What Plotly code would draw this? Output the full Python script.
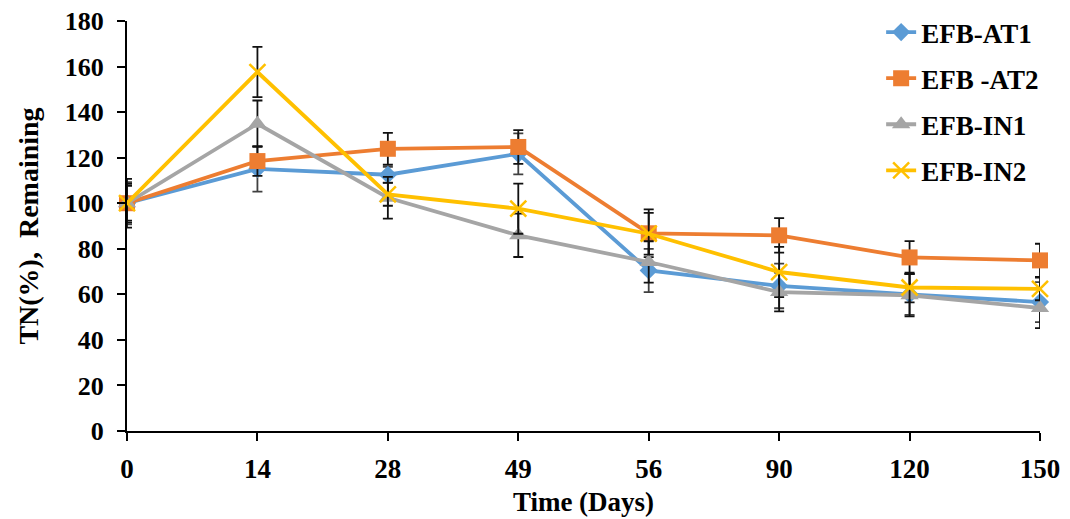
import plotly.graph_objects as go

days = ["0", "14", "28", "49", "56", "90", "120", "150"]

efb_at1 = [100, 115.1, 112.5, 121.7, 70.5, 63.7, 60.0, 56.6]
efb_at1_err = [9.3, 10.0, 3.5, 9.0, 9.5, 9.8, 9.0, 8.8]

efb_at2 = [100, 118.5, 123.9, 124.7, 86.8, 85.9, 76.2, 74.9]
efb_at2_err = [7.6, 6.5, 7.0, 7.4, 10.5, 7.6, 7.2, 7.3]

efb_in1 = [100, 134.9, 102.4, 85.9, 74.2, 61.0, 59.6, 54.0]
efb_in1_err = [10.7, 10.2, 9.2, 9.5, 9.1, 8.5, 9.3, 8.8]

efb_in2 = [100, 157.6, 103.9, 97.6, 86.6, 69.8, 63.0, 62.4]
efb_in2_err = [8.5, 11.0, 5.0, 11.0, 9.2, 11.0, 6.5, 5.0]

names = ["EFB-AT1", "EFB -AT2", "EFB-IN1", "EFB-IN2"]
colors = ["#5B9BD5", "#ED7D31", "#A5A5A5", "#FFC000"]
symbols = ["diamond", "square", "triangle-up", "x-thin"]
sizes = [14, 16, 16, 16]
err_colors = ["#404040", "#111111", "#111111", "#111111"]

series = [efb_at1, efb_at2, efb_in1, efb_in2]
errors = [efb_at1_err, efb_at2_err, efb_in1_err, efb_in2_err]

FONT = "Times New Roman, Liberation Serif, serif"

fig = go.Figure()
for i in range(4):
    marker = dict(symbol=symbols[i], size=sizes[i], color=colors[i])
    if symbols[i] == "x-thin":
        marker["line"] = dict(color=colors[i], width=2.5)
    fig.add_trace(go.Scatter(
        x=days, y=series[i], name=names[i], mode="lines+markers",
        line=dict(color=colors[i], width=3.8),
        marker=marker,
        error_y=dict(type="data", array=errors[i], visible=True,
                     color=err_colors[i], thickness=1.8, width=5),
        cliponaxis=False, legendgroup=str(i),
    ))

# page has an 8px body margin, so the figure is sized to fill the rest
fig.update_layout(
    width=1062, height=511,
    margin=dict(l=119, r=30, t=13, b=88, autoexpand=False),
    paper_bgcolor="white", plot_bgcolor="white",
    font=dict(family=FONT, size=26, color="black", weight="bold"),
    showlegend=True,
    legend=dict(x=0.826, y=1.016, xanchor="left", yanchor="top",
                yref="container",
                bgcolor="rgba(0,0,0,0)", tracegroupgap=8,
                font=dict(family=FONT, size=27, color="black", weight="bold")),
    xaxis=dict(type="category", range=[0, 7], showgrid=False, zeroline=False,
               automargin=False, ticklabeloverflow="allow",
               showline=True, linecolor="black", linewidth=2,
               ticks="outside", ticklen=8, tickwidth=2, tickcolor="black",
               ticklabelstandoff=5,
               tickfont=dict(family=FONT, size=27, weight="bold"),
               title=dict(text="Time (Days)", standoff=9,
                          font=dict(family=FONT, size=27, weight="bold"))),
    yaxis=dict(range=[0, 180], dtick=20, showgrid=False, zeroline=False,
               automargin=False, ticklabeloverflow="allow",
               showline=True, linecolor="black", linewidth=2,
               ticks="outside", ticklen=8, tickwidth=2, tickcolor="black",
               ticklabelstandoff=8,
               tickfont=dict(family=FONT, size=26, weight="bold"),
               title=dict(text="TN(%),  Remaining", standoff=18,
                          font=dict(family=FONT, size=28, weight="bold"))),
)

fig.write_html("out.html")
